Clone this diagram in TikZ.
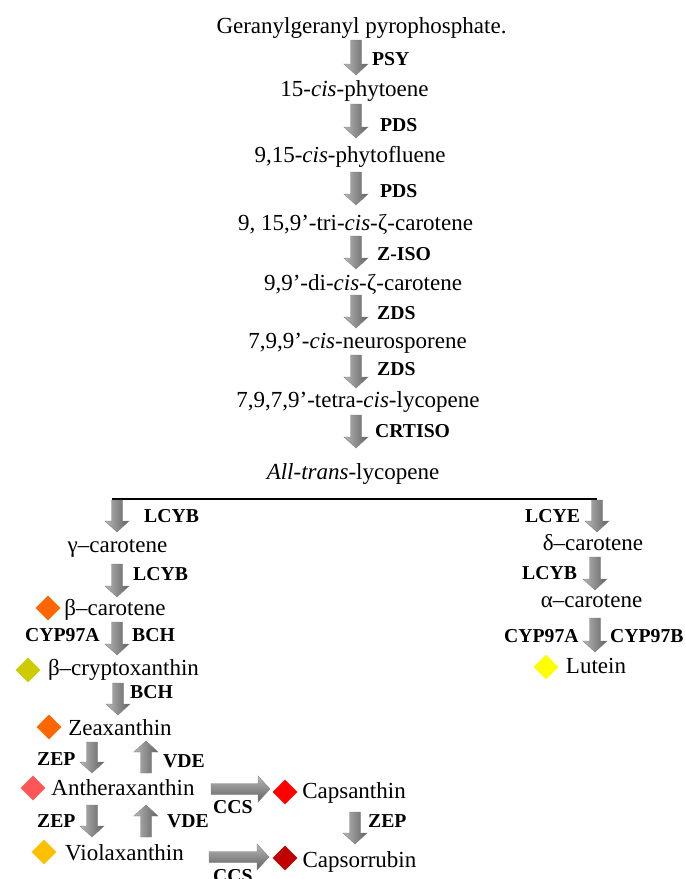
\documentclass[tikz,border=0pt]{standalone}
\usepackage{fontspec}
\setmainfont{Liberation Serif}
\usetikzlibrary{calc,shapes.geometric}
\tikzset{
 mol/.style={anchor=base,inner sep=0pt,font=\fontsize{23}{27}\selectfont},
 enz/.style={anchor=base west,inner sep=0pt,font=\fontsize{19.7}{23}\selectfont\bfseries},
 gem/.style={diamond,inner sep=0pt,minimum size=25pt,fill=#1},
 fatv/.style={left color=black!28,right color=black!62,draw=black!50,line width=0.4pt},
 fath/.style={top color=black!28,bottom color=black!62,draw=black!50,line width=0.4pt},
 branch/.style={line width=1.8pt,black},
}
\definecolor{corange}{HTML}{FF6600}
\definecolor{colive}{HTML}{CCCC00}
\definecolor{csalmon}{HTML}{FF5757}
\definecolor{camber}{HTML}{FFC000}
\definecolor{cred}{HTML}{FF0000}
\definecolor{cdred}{HTML}{C00000}
\definecolor{cyellow}{HTML}{FFFF00}
\newcommand\FatDown[2]{\shade[fatv] ($(#1)+(-5.5,0)$) -- ($(#1)+(5.5,0)$) -- ($(#2)+(5.5,-11)$) -- ($(#2)+(12,-11)$) -- (#2) -- ($(#2)+(-12,-11)$) -- ($(#2)+(-5.5,-11)$) -- cycle;}
\newcommand\FatUp[2]{\shade[fatv] ($(#1)+(-5.5,0)$) -- ($(#1)+(5.5,0)$) -- ($(#2)+(5.5,11)$) -- ($(#2)+(12,11)$) -- (#2) -- ($(#2)+(-12,11)$) -- ($(#2)+(-5.5,11)$) -- cycle;}
\newcommand\FatRight[2]{\shade[fath] ($(#1)+(0,-5.5)$) -- ($(#2)+(-12,-5.5)$) -- ($(#2)+(-12,-13)$) -- (#2) -- ($(#2)+(-12,13)$) -- ($(#2)+(-12,5.5)$) -- ($(#1)+(0,5.5)$) -- cycle;}
\begin{document}
\begin{tikzpicture}[x=1pt,y=-1pt]
\fill[white] (0,0) rectangle (686,879);
\useasboundingbox (0,0) rectangle (686,879);

% main chain
\node[mol] (gg) at (361.5,33) {Geranylgeranyl pyrophosphate.};
\node[mol] (n1) at (354.5,96) {15-\textit{cis}-phytoene};
\node[mol] (n2) at (350,162) {9,15-\textit{cis}-phytofluene};
\node[mol] (n3) at (355.5,230) {9, 15,9’-tri-\textit{cis}-ζ-carotene};
\node[mol] (n4) at (363,290) {9,9’-di-\textit{cis}-ζ-carotene};
\node[mol] (n5) at (357.5,348) {7,9,9’-\textit{cis}-neurosporene};
\node[mol] (n6) at (358,407) {7,9,7,9’-tetra-\textit{cis}-lycopene};
\node[mol] (n7) at (353,479) {\textit{All-trans}-lycopene};

\node[enz] (e1) at (372,65) {PSY};
\node[enz] (e2) at (380,131) {PDS};
\node[enz] (e3) at (380,197) {PDS};
\node[enz] (e4) at (377,260) {Z-ISO};
\node[enz] (e5) at (377,319) {ZDS};
\node[enz] (e6) at (377,375) {ZDS};
\node[enz] (e7) at (375,437) {CRTISO};

\coordinate (a1s) at (356,40);  \coordinate (a1e) at (356,75);
\coordinate (a2s) at (356,104); \coordinate (a2e) at (356,138);
\coordinate (a3s) at (356,172); \coordinate (a3e) at (356,205);
\coordinate (a4s) at (356,236); \coordinate (a4e) at (356,269);
\coordinate (a5s) at (356,295); \coordinate (a5e) at (356,328);
\coordinate (a6s) at (356,355); \coordinate (a6e) at (356,388);
\coordinate (a7s) at (356,415); \coordinate (a7e) at (356,448);
\FatDown{a1s}{a1e}
\FatDown{a2s}{a2e}
\FatDown{a3s}{a3e}
\FatDown{a4s}{a4e}
\FatDown{a5s}{a5e}
\FatDown{a6s}{a6e}
\FatDown{a7s}{a7e}

% branch line
\coordinate (brL) at (112,499);
\coordinate (brR) at (597,499);
\draw[branch] (brL) -- (brR);

% left branch
\node[mol] (gam) at (117.5,552) {γ–carotene};
\node[mol] (bcar) at (115,615) {β–carotene};
\node[gem=corange] (dbcar) at (48,608) {};
\node[mol] (bcry) at (123.5,675) {β–cryptoxanthin};
\node[gem=colive] (dbcry) at (28,670) {};
\node[mol] (zea) at (120,735) {Zeaxanthin};
\node[gem=corange] (dzea) at (49,727) {};
\node[mol] (anth) at (123,795) {Antheraxanthin};
\node[gem=csalmon] (danth) at (33,788) {};
\node[mol] (viol) at (124.5,860) {Violaxanthin};
\node[gem=camber] (dviol) at (44,852) {};
\node[mol] (caps) at (354,798) {Capsanthin};
\node[gem=cred] (dcaps) at (285,792) {};
\node[mol] (capr) at (359.5,867) {Capsorrubin};
\node[gem=cdred] (dcapr) at (285,858) {};

\node[enz] (l1) at (144,522) {LCYB};
\node[enz] (l2) at (133,580) {LCYB};
\node[enz] (l3) at (25,641) {CYP97A};
\node[enz] (l4) at (132,641) {BCH};
\node[enz] (l5) at (130,698) {BCH};
\node[enz] (l6) at (37,765) {ZEP};
\node[enz] (l7) at (163,767) {VDE};
\node[enz] (l8) at (213,813) {CCS};
\node[enz] (l9) at (37,827) {ZEP};
\node[enz] (l10) at (167,827) {VDE};
\node[enz] (l11) at (213,882) {CCS};
\node[enz] (l12) at (368,827) {ZEP};

\coordinate (b1s) at (117,500); \coordinate (b1e) at (117,532);
\coordinate (b2s) at (117,564); \coordinate (b2e) at (117,597);
\coordinate (b3s) at (117,622); \coordinate (b3e) at (117,655);
\coordinate (b4s) at (118,683); \coordinate (b4e) at (118,715);
\coordinate (z1s) at (92,742);  \coordinate (z1e) at (92,773);
\coordinate (v1s) at (146,773); \coordinate (v1e) at (146,741);
\coordinate (z2s) at (92,805);  \coordinate (z2e) at (92,837);
\coordinate (v2s) at (146,837); \coordinate (v2e) at (146,805);
\coordinate (c1s) at (211,789); \coordinate (c1e) at (270,789);
\coordinate (c2s) at (209,857); \coordinate (c2e) at (269,857);
\coordinate (z3s) at (355,812); \coordinate (z3e) at (355,844);
\FatDown{b1s}{b1e}
\FatDown{b2s}{b2e}
\FatDown{b3s}{b3e}
\FatDown{b4s}{b4e}
\FatDown{z1s}{z1e}
\FatUp{v1s}{v1e}
\FatDown{z2s}{z2e}
\FatUp{v2s}{v2e}
\FatRight{c1s}{c1e}
\FatRight{c2s}{c2e}
\FatDown{z3s}{z3e}

% right branch
\node[mol] (del) at (593,550) {δ–carotene};
\node[mol] (alp) at (591.5,607) {α–carotene};
\node[mol] (lut) at (596,673) {Lutein};
\node[gem=cyellow] (dlut) at (546,667) {};

\node[enz] (r1) at (525,522) {LCYE};
\node[enz] (r2) at (522,579) {LCYB};
\node[enz] (r3) at (504,642) {CYP97A};
\node[enz] (r4) at (610,642) {CYP97B};

\coordinate (d1s) at (597,500); \coordinate (d1e) at (597,532);
\coordinate (d2s) at (595,557); \coordinate (d2e) at (595,590);
\coordinate (d3s) at (595,618); \coordinate (d3e) at (595,652);
\FatDown{d1s}{d1e}
\FatDown{d2s}{d2e}
\FatDown{d3s}{d3e}
\end{tikzpicture}
\end{document}
